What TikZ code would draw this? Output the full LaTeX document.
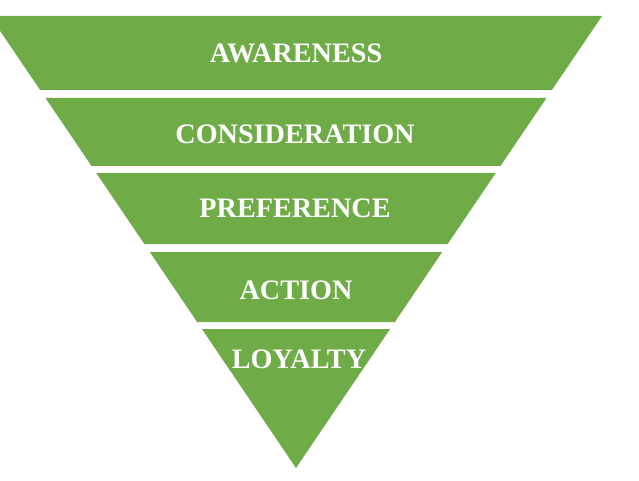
\documentclass[tikz,border=0pt]{standalone}
\usepackage{fontspec}
\setmainfont{Liberation Serif}
\definecolor{funnelgreen}{HTML}{6FAC47}
\newcommand{\fband}[2]{%
  \fill[funnelgreen] ({296-0.677*(468-#1)},#1) -- ({296+0.677*(468-#1)},#1)
    -- ({296+0.677*(468-#2)},#2) -- ({296-0.677*(468-#2)},#2) -- cycle;}
\begin{document}
\begin{tikzpicture}[x=1pt,y=-1pt,
  lbl/.style={anchor=base,text=white,font=\fontsize{28.2}{32}\selectfont\bfseries,inner sep=0pt}]
\useasboundingbox[fill=white] (0,0) rectangle (639,481);
\fband{16}{90}
\fband{98}{166}
\fband{173}{244}
\fband{252}{322}
\fband{329}{468}
\node[lbl] (awareness) at (296,63) {AWARENESS};
\node[lbl] (consideration) at (295,144) {CONSIDERATION};
\node[lbl] (preference) at (295,217) {PREFERENCE};
\node[lbl] (action) at (296,299) {ACTION};
\node[lbl] (loyalty) at (299,368) {LOYALTY};
\end{tikzpicture}
\end{document}
